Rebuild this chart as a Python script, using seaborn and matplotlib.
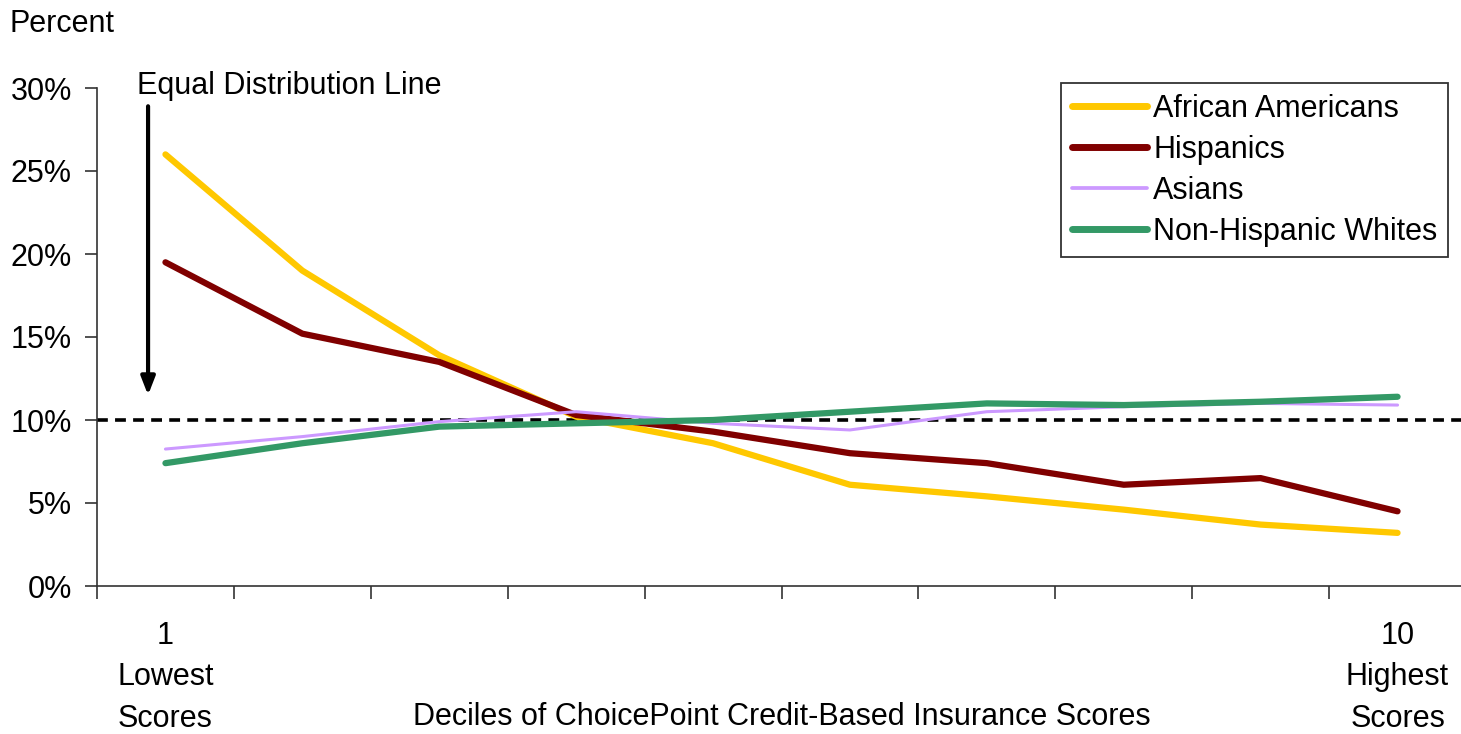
import matplotlib
matplotlib.use("Agg")
import matplotlib.pyplot as plt
import seaborn as sns
import pandas as pd
from matplotlib.ticker import FixedLocator, FuncFormatter

deciles = [1, 2, 3, 4, 5, 6, 7, 8, 9, 10]
african_americans = [26.0, 19.0, 13.9, 10.2, 8.6, 6.1, 5.4, 4.6, 3.7, 3.2]
hispanics = [19.5, 15.2, 13.5, 10.3, 9.3, 8.0, 7.4, 6.1, 6.5, 4.5]
asians = [8.25, 9.0, 9.9, 10.5, 9.8, 9.4, 10.5, 10.8, 11.0, 10.9]
non_hispanic_whites = [7.4, 8.6, 9.6, 9.8, 10.0, 10.5, 11.0, 10.9, 11.1, 11.4]
series_names = ["African Americans", "Hispanics", "Asians", "Non-Hispanic Whites"]
y_ticks = [0, 5, 10, 15, 20, 25, 30]
equal_line = 10

colors = ["#FFC800", "#800000", "#CC99FF", "#339966"]
widths = [4.5, 4.5, 2.2, 4.5]
FS = 22

sns.set_theme(style="white")
plt.rcParams["font.family"] = ["Liberation Sans", "DejaVu Sans"]
plt.rcParams["text.color"] = "black"
plt.rcParams["xtick.color"] = "black"
plt.rcParams["ytick.color"] = "black"

df = pd.DataFrame({
    "decile": deciles * 4,
    "pct": african_americans + hispanics + asians + non_hispanic_whites,
    "group": sum([[n] * len(deciles) for n in series_names], []),
})

fig = plt.figure(figsize=(14.61, 7.34), dpi=100)
ax = fig.add_axes([97 / 1461, 1 - 586 / 734, 1 - 97 / 1461, (586 - 88) / 734])

for name, c, w in zip(series_names, colors, widths):
    sub = df[df["group"] == name]
    sns.lineplot(data=sub, x="decile", y="pct", color=c, linewidth=w, ax=ax,
                 label=name, solid_capstyle="round", solid_joinstyle="round")

ax.axhline(equal_line, color="black", linestyle=(0, (3, 2)), linewidth=2.6, zorder=1)

ax.set_xlim(0.5, 0.5 + (1461 - 97) / 136.9)
ax.set_ylim(0, 30)
ax.set_xlabel("")
ax.set_ylabel("")

# y axis
ax.yaxis.set_major_locator(FixedLocator(y_ticks))
ax.yaxis.set_major_formatter(FuncFormatter(lambda v, p: f"{int(v)}%"))
ax.tick_params(axis="y", which="major", direction="out", length=9, width=1.2,
               color="#333333", labelcolor="black", labelsize=FS, pad=9, left=True)

# x axis: ticks at boundaries, labels at deciles 1 and 10
ax.xaxis.set_minor_locator(FixedLocator([d + 0.5 for d in deciles[:-1]] + [0.5]))
ax.xaxis.set_major_locator(FixedLocator([1, 10]))
ax.set_xticklabels(["1\nLowest\nScores", "10\nHighest\nScores"], linespacing=1.5)
ax.tick_params(axis="x", which="minor", direction="out", length=9, width=1.2,
               color="#333333", bottom=True)
ax.tick_params(axis="x", which="major", length=0, labelsize=FS, labelcolor="black", pad=25)

for s in ["top", "right"]:
    ax.spines[s].set_visible(False)
for s in ["left", "bottom"]:
    ax.spines[s].set_color("#333333")
    ax.spines[s].set_linewidth(1.2)

fig.text(782 / 1461, 1 - 717 / 734, "Deciles of ChoicePoint Credit-Based Insurance Scores",
         ha="center", va="center", fontsize=FS)
fig.text(10 / 1461, 1 - 24 / 734, "Percent", ha="left", va="center", fontsize=FS)

# arrow annotation
ax.annotate("", xy=(0.873, 11.5), xytext=(0.873, 28.9),
            arrowprops=dict(arrowstyle="-|>,head_length=0.9,head_width=0.35",
                            color="black", lw=3, shrinkA=0, shrinkB=0))
ax.text(0.79, 30.1, "Equal Distribution Line", ha="left", va="center", fontsize=FS)

leg = ax.legend(loc="upper right", bbox_to_anchor=((1448 - 97) / 1364, (586 - 83) / 498),
                fontsize=FS, frameon=True, fancybox=False, handlelength=2.45,
                handletextpad=0.2, labelspacing=0.36, borderpad=0.35, borderaxespad=0)
leg.get_frame().set_edgecolor("black")
leg.get_frame().set_linewidth(1.3)
for line, w in zip(leg.get_lines(), widths):
    line.set_linewidth(w + 0.5)

fig.savefig("out.png", dpi=100)
